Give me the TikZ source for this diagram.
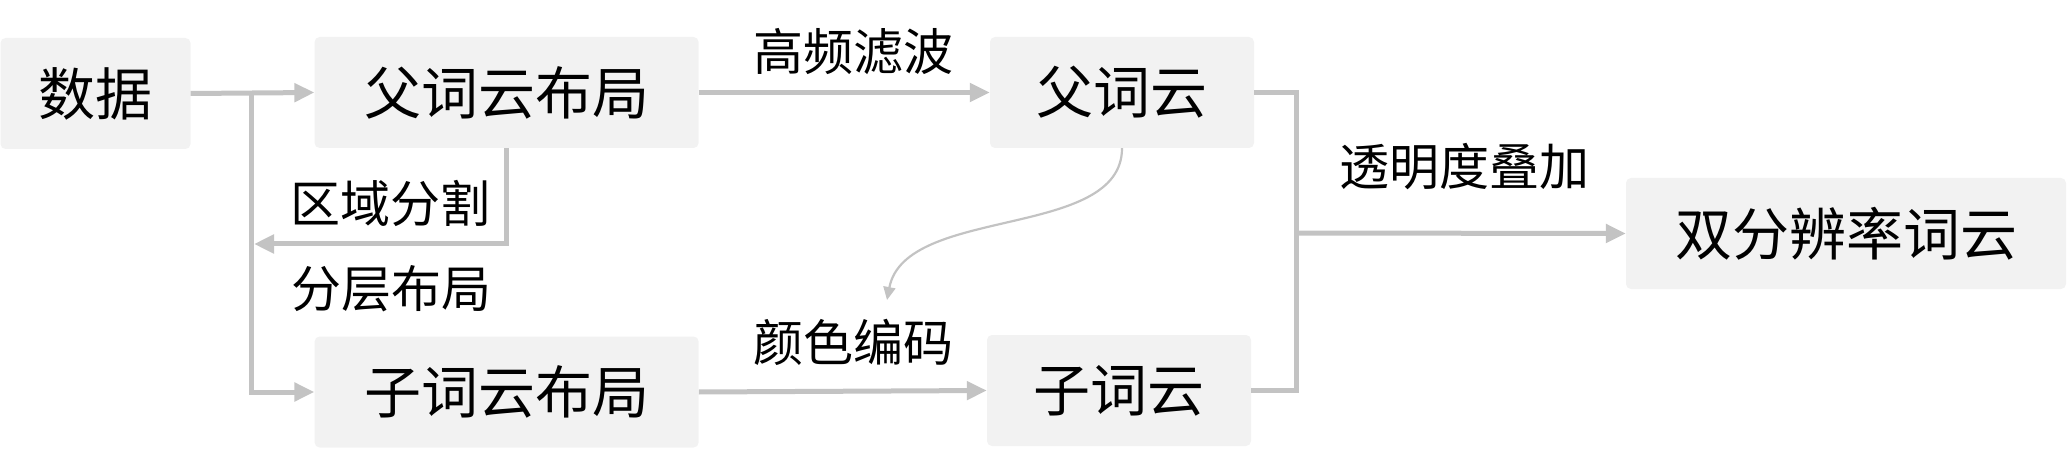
\documentclass[tikz,border=0pt]{standalone}
\usepackage{fontspec}
\newfontfamily\cjk{Noto Sans CJK SC}
\usetikzlibrary{arrows.meta,calc}
\definecolor{boxfill}{HTML}{F2F2F2}
\definecolor{linegray}{HTML}{C3C3C3}
\tikzset{
  stepbox/.style={fill=boxfill, draw=none, rounded corners=5pt, inner sep=0pt,
    minimum height=111pt, font=\cjk\fontsize{57}{62}\selectfont, text=black},
  lbl/.style={inner sep=0pt, font=\cjk\fontsize{50}{56}\selectfont, text=black},
  conn/.style={draw=linegray, line width=5pt},
  arr/.style={conn, -{Triangle[length=20pt,width=18pt]}},
  thinarr/.style={draw=linegray, line width=2.2pt, -{Triangle[length=13pt,width=12pt]}}
}
\begin{document}
\begin{tikzpicture}[x=1pt,y=-1pt]
\useasboundingbox (0,0) rectangle (2068,462);
% boxes
\node[stepbox, minimum width=190pt] (data) at (95.5,93.5) {数据};
\node[stepbox, minimum width=384pt] (fl) at (506.6,92.5) {父词云布局};
\node[stepbox, minimum width=384pt] (cl) at (506.6,392) {子词云布局};
\node[stepbox, minimum width=264pt] (fp) at (1122,92.5) {父词云};
\node[stepbox, minimum width=264pt] (cp) at (1119,390.5) {子词云};
\node[stepbox, minimum width=440pt] (res) at (1846,233.5) {双分辨率词云};
% labels
\node[lbl] (l1) at (853,52) {高频滤波};
\node[lbl] (l2) at (390,203) {区域分割};
\node[lbl] (l3) at (391,289) {分层布局};
\node[lbl] (l4) at (853,342) {颜色编码};
\node[lbl] (l5) at (1464,167) {透明度叠加};
% coordinates
\coordinate (trunkTop) at (251.6,93);
\coordinate (fbEnd) at (254,244);
\coordinate (mx) at (1296,233);
% connectors
\draw[arr] (data.east) -- (fl.west);
\draw[arr] (trunkTop) |- (cl.west);
\draw[arr] (fl.south) |- (fbEnd);
\draw[arr] (fl.east) -- (fp.west);
\draw[arr] (cl.east) -- (cp.west);
\draw[conn] (fp.east) -- (fp.east -| mx) -- (cp.east -| mx) -- (cp.east);
\draw[arr] (mx) -- (res.west);
\draw[thinarr] (fp.south) .. controls (1122,240) and (905,205) .. (887,300);
\end{tikzpicture}
\end{document}
